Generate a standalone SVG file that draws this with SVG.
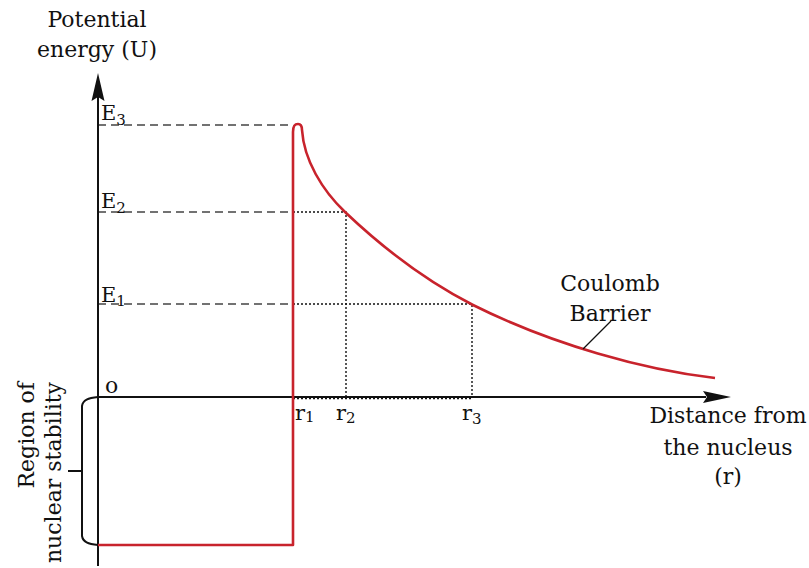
<svg xmlns="http://www.w3.org/2000/svg" width="809" height="568" viewBox="0 0 809 568">
<style>
text{font-family:"DejaVu Serif","Liberation Serif",serif;fill:#111}
.lbl{font-size:22px}
.sm{font-size:21px}
.sub{font-size:15px}
.axis{stroke:#111;stroke-width:2;fill:none}
.dash{stroke:#444;stroke-width:1.4;stroke-dasharray:8 5;fill:none}
.dot{stroke:#111;stroke-width:1.4;stroke-dasharray:2 2;fill:none}
.red{stroke:#c8232c;stroke-width:2.6;fill:none;stroke-linejoin:round}
</style>
<rect width="809" height="568" fill="#fff"/>
<g id="guides">
<path class="dash" d="M98,125H293"/>
<path class="dash" d="M98,212H293"/>
<path class="dash" d="M98,304H293"/>
<path class="dot" d="M293,212H346V397"/>
<path class="dot" d="M293,304H472V397"/>
<path class="dot" d="M293,398.5H472"/>
</g>
<g id="axes">
<path class="axis" d="M98,96V566"/>
<path d="M98,73L104.5,101L98,97L91.5,101Z" fill="#111"/>
<path class="axis" d="M98,397H706"/>
<path d="M731,397L703,391L707,397L703,403Z" fill="#111"/>
</g>
<g id="brace">
<path class="axis" stroke-width="1.4" d="M98,397C88,398 83,400 82,406V536C83,542 88,544 98,545M82,471H68"/>
</g>
<g id="barrier">
<path class="red" d="M98,545H293V132C293,125 295,124 298,124C301,124 302,126 302,130C304,160 322,190 345,212C385,250 428,282 473,305C553,345 645,370 715,378"/>
<path stroke="#111" stroke-width="1.2" d="M583,349L611,321"/>
</g>
<g id="labels">
<text class="lbl" x="97" y="27" text-anchor="middle">Potential</text>
<text class="lbl" x="97" y="57" text-anchor="middle">energy (U)</text>
<text class="sm" x="101" y="120">E<tspan class="sub" dy="5">3</tspan></text>
<text class="sm" x="101" y="208">E<tspan class="sub" dy="5">2</tspan></text>
<text class="sm" x="101" y="302">E<tspan class="sub" dy="4">1</tspan></text>
<text class="lbl" x="105" y="393">o</text>
<text class="sm" x="295" y="420">r<tspan class="sub" dy="2">1</tspan></text>
<text class="sm" x="336" y="420">r<tspan class="sub" dy="3">2</tspan></text>
<text class="sm" x="462" y="420">r<tspan class="sub" dy="4">3</tspan></text>
<text class="lbl" x="610" y="291" text-anchor="middle">Coulomb</text>
<text class="lbl" x="610" y="321" text-anchor="middle">Barrier</text>
<text class="lbl" x="728" y="423" text-anchor="middle">Distance from</text>
<text class="lbl" x="728" y="455" text-anchor="middle">the nucleus</text>
<text class="lbl" x="728" y="484" text-anchor="middle">(r)</text>
<text class="lbl" transform="translate(34,382) rotate(-90)" text-anchor="end">Region of</text>
<text class="lbl" transform="translate(61,382) rotate(-90)" text-anchor="end">nuclear stability</text>
</g>
</svg>
